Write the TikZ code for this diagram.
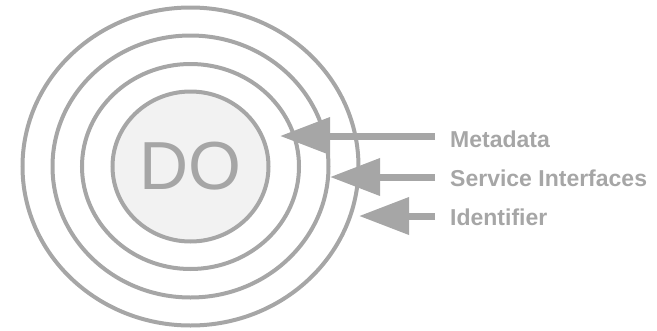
\documentclass[tikz,border=0pt]{standalone}
\usepackage{fontspec}
\setmainfont{Liberation Sans}
\usepackage{tikz}
\usetikzlibrary{arrows.meta,shapes.geometric}

\definecolor{ringgray}{HTML}{A6A6A6}
\definecolor{corefill}{HTML}{F2F2F2}

\tikzset{
    ring/.style={draw=ringgray, line width=4pt, ellipse, inner sep=0pt},
    layerarrow/.style={draw=ringgray, line width=7pt, -{Triangle[length=50pt,width=36pt]}},
    layerlabel/.style={text=ringgray, anchor=base west, inner sep=0pt, font=\bfseries\fontsize{23}{27}\selectfont}
}

\begin{document}
\begin{tikzpicture}[x=1pt, y=-1pt]
    \useasboundingbox (0,0) rectangle (657,330);

    \node [ring, minimum width=336pt, minimum height=318pt] (outer_ring) at (190.5,166.5) {};
    \node [ring, minimum width=276pt, minimum height=262pt] (third_ring) at (190.5,166.5) {};
    \node [ring, minimum width=217pt, minimum height=205pt] (second_ring) at (190.5,166.5) {};
    \node [ring, fill=corefill, minimum width=156pt, minimum height=150pt, text=ringgray,
           font=\fontsize{68}{70}\selectfont] (core) at (190.5,166.5) {DO};

    \node [layerlabel] (metadata) at (450,147) {Metadata};
    \node [layerlabel] (interfaces) at (450,186.5) {Service Interfaces};
    \node [layerlabel] (identifier) at (450,225) {Identifier};

    \coordinate (metadata_tail) at (435,136);
    \coordinate (metadata_tip) at (280,136);
    \coordinate (interfaces_tail) at (435,177);
    \coordinate (interfaces_tip) at (330,177);
    \coordinate (identifier_tail) at (435,216);
    \coordinate (identifier_tip) at (359,216);

    \draw [layerarrow] (metadata_tail) -- (metadata_tip);
    \draw [layerarrow] (interfaces_tail) -- (interfaces_tip);
    \draw [layerarrow] (identifier_tail) -- (identifier_tip);
\end{tikzpicture}
\end{document}
